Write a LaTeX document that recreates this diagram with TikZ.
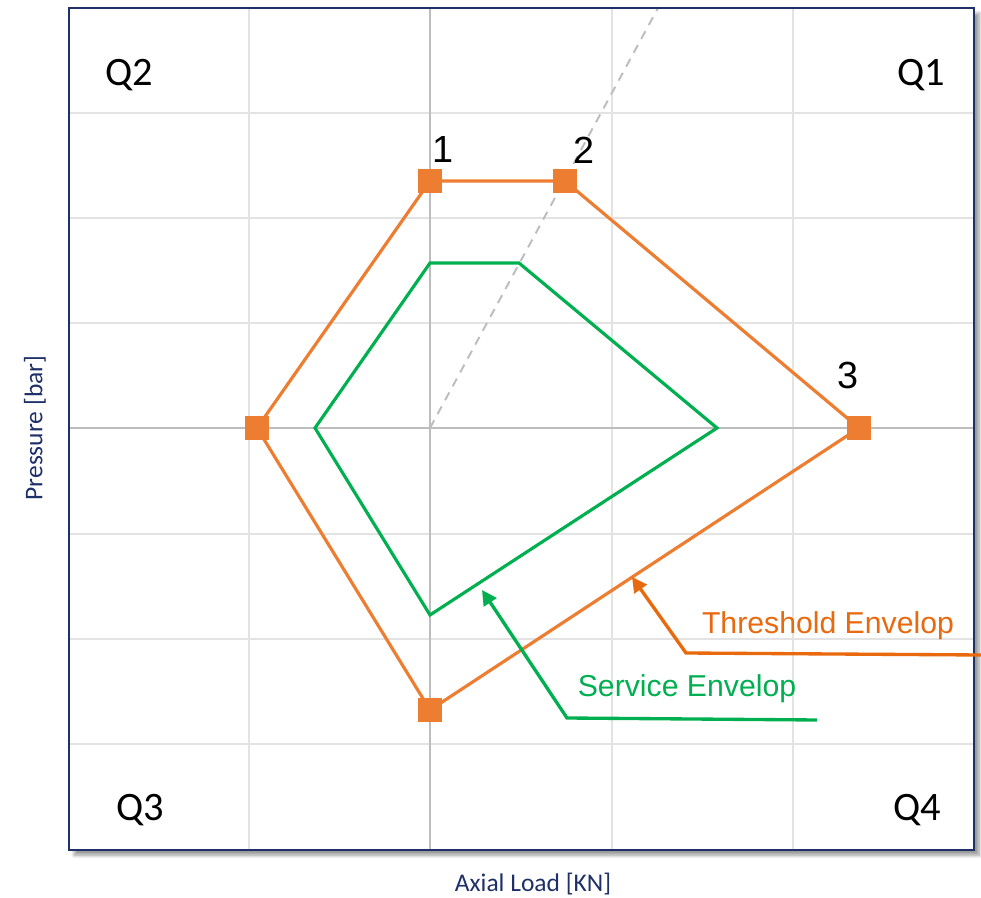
\documentclass[tikz,border=0pt]{standalone}
\usepackage{fontspec}
\setmainfont{Carlito}
\newfontfamily\envfont{Liberation Sans}
\usetikzlibrary{arrows.meta,shadows.blur}
\definecolor{thorange}{HTML}{ED7D31}
\definecolor{tharrow}{HTML}{E8690E}
\definecolor{svgreen}{HTML}{00B050}
\definecolor{framenavy}{HTML}{1F3068}
\definecolor{gridgray}{HTML}{E3E3E3}
\definecolor{axisgray}{HTML}{BDBDBD}
\begin{document}
\begin{tikzpicture}[x=0.02cm,y=-0.02cm,
    marker/.style={rectangle,fill=thorange,minimum size=0.48cm,inner sep=0pt},
    quad/.style={font=\fontsize{23}{23}\selectfont},
    ptlabel/.style={font=\envfont\fontsize{21.5}{21.5}\selectfont},
    axislabel/.style={text=framenavy,font=\fontsize{14.5}{14.5}\selectfont},
    envlabel/.style={font=\envfont\fontsize{17.2}{17.2}\selectfont},
    callout/.style={line width=1.9pt,-{Triangle[length=8.5pt,width=8.5pt]}}]
    \useasboundingbox (0,0) rectangle (981,898);
    % frame and grid
    \fill[white,blur shadow={shadow xshift=3pt,shadow yshift=-3pt,shadow blur steps=6}] (69,8) rectangle (974,850);
    \foreach \x in {249,612,793} \draw[gridgray,line width=1.1pt] (\x,8) -- (\x,850);
    \foreach \y in {113,218,323,534,639,744} \draw[gridgray,line width=1.1pt] (69,\y) -- (974,\y);
    \draw[axisgray,line width=1.1pt] (430,8) -- (430,850);
    \draw[axisgray,line width=1.1pt] (69,428) -- (974,428);
    \draw[axisgray,dashed,line width=1.1pt,dash pattern=on 5pt off 4pt] (430,428) -- (658,8);
    \draw[framenavy,line width=1.2pt] (69,8) rectangle (974,850);
    % axis labels
    \node[axislabel] (xlab) at (533,884) {Axial Load [KN]};
    \node[axislabel,rotate=90] (ylab) at (35,428) {Pressure [bar]};
    % quadrants
    \node[quad] (q2) at (129,75) {Q2};
    \node[quad] (q1) at (921,75) {Q1};
    \node[quad] (q3) at (140,810) {Q3};
    \node[quad] (q4) at (917,810) {Q4};
    % service envelop
    \coordinate (s1) at (430,263);
    \coordinate (s2) at (519,263);
    \coordinate (s3) at (717,428);
    \coordinate (s4) at (430,615);
    \coordinate (s5) at (315,428);
    \draw[svgreen,line width=1.8pt,line join=miter] (s1) -- (s2) -- (s3) -- (s4) -- (s5) -- cycle;
    % threshold envelop
    \coordinate (t1) at (430,181);
    \coordinate (t2) at (565,181);
    \coordinate (t3) at (859,428);
    \coordinate (t4) at (430,710);
    \coordinate (t5) at (257,428);
    \draw[thorange,line width=1.8pt] (t1) -- (t2) -- (t3) -- (t4) -- (t5) -- cycle;
    \node[marker] (m1) at (t1) {};
    \node[marker] (m2) at (t2) {};
    \node[marker] (m3) at (t3) {};
    \node[marker] (m4) at (t4) {};
    \node[marker] (m5) at (t5) {};
    \node[ptlabel] (n1) at (443,150) {1};
    \node[ptlabel] (n2) at (584,150) {2};
    \node[ptlabel] (n3) at (848,375) {3};
    % callouts
    \node[envlabel,text=tharrow] (thlab) at (828,626) {Threshold Envelop};
    \node[envlabel,text=svgreen] (svlab) at (687,689) {Service Envelop};
    \coordinate (thend) at (981,655);
    \coordinate (thbend) at (686,653);
    \coordinate (thtip) at (632,577);
    \draw[callout,tharrow] (thend) -- (thbend) -- (thtip);
    \coordinate (svend) at (817,720);
    \coordinate (svbend) at (567,718);
    \coordinate (svtip) at (482,590);
    \draw[callout,svgreen] (svend) -- (svbend) -- (svtip);
\end{tikzpicture}
\end{document}
